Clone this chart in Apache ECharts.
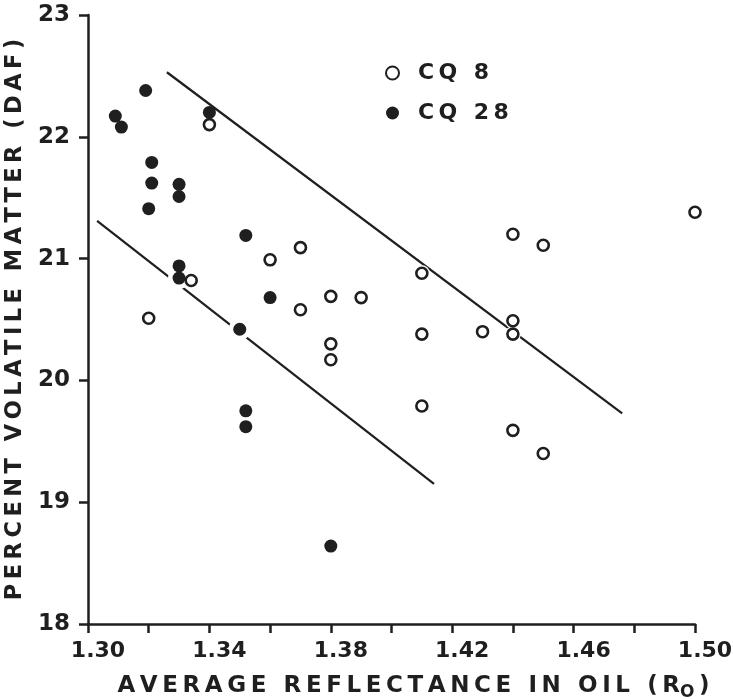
<!DOCTYPE html>
<html>
<head>
<meta charset="utf-8">
<script src="https://cdn.jsdelivr.net/npm/echarts@6/dist/echarts.min.js"></script>
<style>
  html, body { margin: 0; padding: 0; background: #fff; }
  #chart { width: 733px; height: 699px; }
</style>
</head>
<body>
<div id="chart"></div>
<script>
// Reflectance (Ro) vs. percent volatile matter (daf) for two coal samples
const cq8 = [
  [1.334, 20.82], [1.320, 20.51], [1.340, 22.10], [1.360, 20.99], [1.370, 21.09],
  [1.370, 20.58], [1.380, 20.69], [1.390, 20.68], [1.380, 20.30], [1.380, 20.17],
  [1.410, 20.88], [1.410, 20.38], [1.410, 19.79], [1.430, 20.40], [1.440, 20.49],
  [1.440, 20.38], [1.440, 19.59], [1.440, 21.20], [1.450, 21.11], [1.450, 19.40],
  [1.500, 21.38]
];
const cq28 = [
  [1.309, 22.17], [1.311, 22.08], [1.319, 22.38], [1.321, 21.79], [1.321, 21.62],
  [1.320, 21.41], [1.330, 21.61], [1.330, 21.51], [1.330, 20.94], [1.330, 20.84],
  [1.340, 22.20], [1.352, 21.19], [1.360, 20.68], [1.350, 20.42], [1.352, 19.75],
  [1.352, 19.62], [1.380, 18.64]
];
// Bounding trend lines
const upperLine = [[1.326, 22.53], [1.476, 19.73]];
const lowerLine = [[1.303, 21.31], [1.414, 19.15]];

const xTicks = [1.30, 1.34, 1.38, 1.42, 1.46, 1.50];
const yTicks = [18, 19, 20, 21, 22, 23];

const ink = '#1f1f1f';
const font = 'DejaVu Sans';

// Stencil-style lettering: open the letters up with thin spaces
const track = (s) => Array.from(s).join('\u2009');

const chart = echarts.init(document.getElementById('chart'));

const lineSeries = (data, z) => ({
  type: 'line', data, symbol: 'none', z, silent: true,
  lineStyle: { color: ink, width: 2.2 }
});
// white disc behind each marker so a trend line breaks where it runs through a point
const haloSeries = (data, size, z) => ({
  type: 'scatter', data, symbol: 'circle', symbolSize: size, z, silent: true,
  itemStyle: { color: '#fff', opacity: 1 }
});

chart.setOption({
  backgroundColor: '#fff',
  animation: false,
  grid: { left: 88, right: 38, top: 15, bottom: 75, containLabel: false, outerBoundsMode: 'none' },
  legend: {
    data: ['CQ 8', 'CQ 28'],
    orient: 'vertical',
    left: 380, top: 57,
    itemWidth: 13, itemHeight: 13, itemGap: 18,
    formatter: (name) => track(name),
    textStyle: { color: ink, fontFamily: font, fontWeight: 'bold', fontSize: 22, padding: [0, 0, 0, 14] }
  },
  xAxis: {
    type: 'value', min: 1.30, max: 1.50, interval: 0.02,
    name: track('AVERAGE REFLECTANCE IN OIL (R') + '{sub|O}' + '\u2009)',
    nameLocation: 'middle', nameGap: 48,
    nameTextStyle: {
      color: ink, fontFamily: font, fontWeight: 'bold', fontSize: 23, padding: [0, 0, 0, 44],
      rich: { sub: { fontSize: 17, fontFamily: font, fontWeight: 'bold', color: ink, padding: [12, 0, 0, 0] } }
    },
    axisLine: { lineStyle: { color: ink, width: 2.5 } },
    axisTick: { length: 9, lineStyle: { color: ink, width: 2.5 } },
    axisLabel: {
      color: ink, fontFamily: font, fontWeight: 'bold', fontSize: 22, margin: 16, padding: [0, 0, 0, 20],
      formatter: (v) => xTicks.some(t => Math.abs(t - v) < 1e-6) ? v.toFixed(2) : ''
    },
    splitLine: { show: false }
  },
  yAxis: {
    type: 'value', min: 18, max: 23, interval: 1,
    name: track('PERCENT VOLATILE MATTER (DAF)'),
    nameLocation: 'middle', nameGap: 55,
    nameTextStyle: { color: ink, fontFamily: font, fontWeight: 'bold', fontSize: 22.5 },
    axisLine: { lineStyle: { color: ink, width: 2.5 } },
    axisTick: { length: 9, lineStyle: { color: ink, width: 2.5 } },
    axisLabel: {
      color: ink, fontFamily: font, fontWeight: 'bold', fontSize: 23, margin: 18,
      formatter: (v) => yTicks.includes(v) ? String(v) : ''
    },
    splitLine: { show: false }
  },
  series: [
    // layering: lower line, CQ 28 discs, upper line, CQ 8 discs, markers
    lineSeries(lowerLine, 0),
    haloSeries(cq28, 22, 1),
    lineSeries(upperLine, 2),
    haloSeries(cq8, 16, 3),
    {
      name: 'CQ 8', type: 'scatter', data: cq8, z: 4,
      symbol: 'circle', symbolSize: 11,
      itemStyle: { color: '#fff', borderColor: ink, borderWidth: 2.6, opacity: 1 }
    },
    {
      name: 'CQ 28', type: 'scatter', data: cq28, z: 4,
      symbol: 'circle', symbolSize: 13,
      itemStyle: { color: ink, opacity: 1 }
    }
  ]
});
</script>
</body>
</html>
